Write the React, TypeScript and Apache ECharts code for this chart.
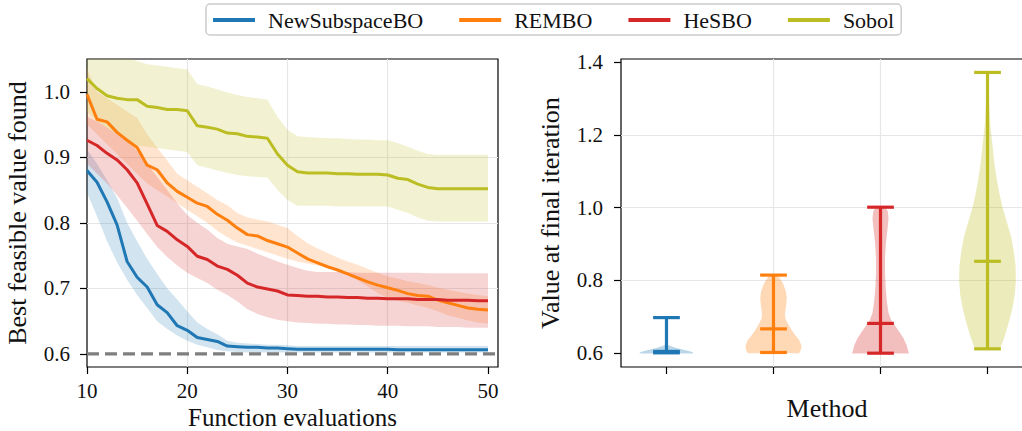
import React, { useEffect, useRef } from 'react';
import * as echarts from 'echarts';

const METHODS = ['NewSubspaceBO', 'REMBO', 'HeSBO', 'Sobol'];
const COLORS = ['#1f77b4', '#ff7f0e', '#d62728', '#bcbd22'];
const FONT = "'Liberation Serif', 'Times New Roman', serif";

const EVALS = [10, 11, 12, 13, 14, 15, 16, 17, 18, 19, 20, 21, 22, 23, 24, 25, 26, 27, 28, 29, 30,
  31, 32, 33, 34, 35, 36, 37, 38, 39, 40, 41, 42, 43, 44, 45, 46, 47, 48, 49, 50];
const X_MIN = 10;
const X_MAX = 51;
const OPTIMUM = 0.6;

const NEW_MEAN = [0.880, 0.862, 0.832, 0.797, 0.741, 0.717, 0.702, 0.675, 0.663, 0.643, 0.636, 0.625, 0.622, 0.619, 0.612, 0.611, 0.610, 0.610, 0.609, 0.609, 0.608,
  0.607, 0.607, 0.607, 0.607, 0.607, 0.607, 0.607, 0.607, 0.607, 0.607, 0.6065, 0.6065, 0.6065, 0.6065, 0.6065, 0.6065, 0.6065, 0.6065, 0.6065, 0.6065];
const NEW_UP = [0.912, 0.890, 0.865, 0.838, 0.800, 0.772, 0.745, 0.722, 0.700, 0.683, 0.665, 0.648, 0.638, 0.630, 0.620, 0.617, 0.616, 0.615, 0.614, 0.614, 0.613,
  0.612, 0.612, 0.612, 0.612, 0.612, 0.612, 0.612, 0.612, 0.612, 0.612, 0.612, 0.612, 0.612, 0.612, 0.612, 0.612, 0.612, 0.612, 0.612, 0.612];
const NEW_LO = [0.846, 0.810, 0.772, 0.740, 0.713, 0.690, 0.670, 0.650, 0.638, 0.628, 0.620, 0.614, 0.610, 0.606, 0.604, 0.603, 0.602, 0.602, 0.602, 0.602, 0.602,
  0.602, 0.602, 0.602, 0.602, 0.602, 0.602, 0.602, 0.602, 0.602, 0.602, 0.602, 0.602, 0.602, 0.602, 0.602, 0.602, 0.602, 0.602, 0.602, 0.602];

const REMBO_MEAN = [0.996, 0.958, 0.954, 0.938, 0.926, 0.915, 0.888, 0.881, 0.861, 0.848, 0.839, 0.830, 0.825, 0.813, 0.804, 0.792, 0.782, 0.780, 0.773, 0.768, 0.763,
  0.754, 0.745, 0.739, 0.733, 0.728, 0.722, 0.716, 0.710, 0.705, 0.701, 0.697, 0.692, 0.689, 0.688, 0.682, 0.678, 0.674, 0.670, 0.668, 0.667];
const REMBO_UP = [1.035, 1.000, 0.990, 0.980, 0.970, 0.960, 0.935, 0.915, 0.895, 0.875, 0.865, 0.855, 0.845, 0.835, 0.827, 0.815, 0.808, 0.805, 0.802, 0.797, 0.792,
  0.780, 0.769, 0.761, 0.754, 0.747, 0.741, 0.736, 0.730, 0.724, 0.718, 0.715, 0.711, 0.708, 0.705, 0.701, 0.698, 0.695, 0.692, 0.690, 0.688];
const REMBO_LO = [0.950, 0.935, 0.920, 0.905, 0.890, 0.875, 0.860, 0.850, 0.840, 0.830, 0.820, 0.810, 0.800, 0.788, 0.778, 0.770, 0.765, 0.760, 0.755, 0.750, 0.745,
  0.741, 0.738, 0.735, 0.732, 0.728, 0.720, 0.712, 0.703, 0.693, 0.685, 0.681, 0.678, 0.674, 0.670, 0.665, 0.659, 0.655, 0.651, 0.648, 0.646];

const HESBO_MEAN = [0.926, 0.918, 0.906, 0.896, 0.881, 0.861, 0.829, 0.796, 0.787, 0.774, 0.764, 0.749, 0.744, 0.734, 0.729, 0.720, 0.708, 0.702, 0.699, 0.696, 0.690,
  0.689, 0.688, 0.688, 0.687, 0.687, 0.686, 0.686, 0.685, 0.685, 0.684, 0.684, 0.684, 0.683, 0.683, 0.683, 0.682, 0.682, 0.682, 0.681, 0.681];
const HESBO_UP = [0.962, 0.955, 0.945, 0.935, 0.925, 0.910, 0.890, 0.870, 0.850, 0.830, 0.812, 0.800, 0.790, 0.777, 0.768, 0.764, 0.760, 0.753, 0.747, 0.741, 0.736,
  0.731, 0.727, 0.725, 0.725, 0.725, 0.725, 0.724, 0.724, 0.724, 0.724, 0.724, 0.724, 0.724, 0.723, 0.723, 0.723, 0.723, 0.723, 0.723, 0.723];
const HESBO_LO = [0.890, 0.875, 0.860, 0.842, 0.823, 0.803, 0.783, 0.763, 0.748, 0.735, 0.724, 0.716, 0.708, 0.698, 0.690, 0.680, 0.668, 0.661, 0.656, 0.652, 0.650,
  0.648, 0.647, 0.646, 0.646, 0.645, 0.645, 0.644, 0.644, 0.643, 0.643, 0.643, 0.642, 0.642, 0.642, 0.641, 0.641, 0.641, 0.640, 0.640, 0.640];

const SOBOL_MEAN = [1.020, 1.005, 0.994, 0.990, 0.988, 0.988, 0.978, 0.976, 0.973, 0.973, 0.971, 0.948, 0.946, 0.943, 0.937, 0.936, 0.932, 0.931, 0.929, 0.905, 0.888,
  0.878, 0.876, 0.876, 0.876, 0.875, 0.875, 0.874, 0.874, 0.874, 0.873, 0.868, 0.866, 0.859, 0.854, 0.852, 0.852, 0.852, 0.852, 0.852, 0.852];
const SOBOL_UP = [1.065, 1.065, 1.062, 1.058, 1.052, 1.047, 1.042, 1.040, 1.038, 1.036, 1.034, 1.012, 1.008, 1.004, 0.999, 0.995, 0.992, 0.990, 0.988, 0.962, 0.942,
  0.932, 0.931, 0.930, 0.929, 0.929, 0.928, 0.927, 0.927, 0.926, 0.926, 0.922, 0.916, 0.910, 0.905, 0.904, 0.904, 0.904, 0.904, 0.904, 0.904];
const SOBOL_LO = [0.970, 0.955, 0.945, 0.935, 0.925, 0.918, 0.916, 0.914, 0.912, 0.910, 0.908, 0.888, 0.884, 0.880, 0.876, 0.873, 0.871, 0.870, 0.869, 0.850, 0.835,
  0.826, 0.826, 0.826, 0.826, 0.825, 0.825, 0.825, 0.825, 0.825, 0.825, 0.820, 0.815, 0.808, 0.803, 0.802, 0.802, 0.802, 0.802, 0.802, 0.802];

const MEANS = [NEW_MEAN, REMBO_MEAN, HESBO_MEAN, SOBOL_MEAN];
const UPPERS = [NEW_UP, REMBO_UP, HESBO_UP, SOBOL_UP];
const LOWERS = [NEW_LO, REMBO_LO, HESBO_LO, SOBOL_LO];

// Violin plot (final iteration)
const VIOLIN_POS = [1, 2, 3, 4];
const FINAL_MIN = [0.600, 0.601, 0.599, 0.611];
const FINAL_MEDIAN = [0.604, 0.666, 0.681, 0.852];
const FINAL_MAX = [0.697, 0.814, 1.001, 1.372];
// [value, half width] pairs of each violin's density outline
const NEW_PROFILE = [[0.598, 0.255], [0.602, 0.24], [0.606, 0.2], [0.610, 0.14], [0.614, 0.085], [0.618, 0.045], [0.621, 0.02], [0.624, 0.006], [0.63, 0.003], [0.66, 0.002], [0.697, 0.001]];
const REMBO_PROFILE = [[0.599, 0.24], [0.61, 0.258], [0.62, 0.262], [0.635, 0.24], [0.65, 0.2], [0.665, 0.165], [0.68, 0.135], [0.695, 0.11], [0.71, 0.108], [0.73, 0.118], [0.75, 0.124], [0.77, 0.115], [0.79, 0.09], [0.805, 0.06], [0.815, 0.03]];
const HESBO_PROFILE = [[0.598, 0.265], [0.62, 0.245], [0.64, 0.215], [0.66, 0.17], [0.675, 0.135], [0.69, 0.1], [0.71, 0.075], [0.74, 0.06], [0.78, 0.048], [0.82, 0.042], [0.86, 0.042], [0.9, 0.05], [0.94, 0.065], [0.97, 0.075], [0.99, 0.068], [1.0, 0.045]];
const SOBOL_PROFILE = [[0.611, 0.11], [0.62, 0.13], [0.65, 0.165], [0.68, 0.195], [0.72, 0.23], [0.76, 0.255], [0.80, 0.265], [0.84, 0.262], [0.88, 0.245], [0.92, 0.22], [0.96, 0.18], [1.0, 0.14], [1.04, 0.11], [1.08, 0.085], [1.12, 0.065], [1.17, 0.047], [1.23, 0.025], [1.3, 0.012], [1.372, 0.005]];
const PROFILES = [NEW_PROFILE, REMBO_PROFILE, HESBO_PROFILE, SOBOL_PROFILE];
const CAP_HALF = 0.125;

const LEFT_Y_TICKS = [0.6, 0.7, 0.8, 0.9, 1.0];
const LEFT_X_TICKS = [10, 20, 30, 40, 50];
const RIGHT_Y_TICKS = [0.6, 0.8, 1.0, 1.2, 1.4];

function rgba(hex: string, a: number) {
  const r = parseInt(hex.slice(1, 3), 16);
  const g = parseInt(hex.slice(3, 5), 16);
  const b = parseInt(hex.slice(5, 7), 16);
  return `rgba(${r},${g},${b},${a})`;
}

const tickStyle = { show: true, length: 7, lineStyle: { color: '#000', width: 1.2 } };
const labelStyle = { fontSize: 21, fontFamily: FONT, color: '#111' };
const nameStyle = { fontSize: 26, fontFamily: FONT, color: '#111' };
const splitStyle = { show: true, showMinLine: false, showMaxLine: false, lineStyle: { color: '#e6e6e6', width: 1.2 } };

function bandSeries(i: number) {
  const lo = LOWERS[i];
  const hi = UPPERS[i];
  return {
    type: 'custom',
    xAxisIndex: 0,
    yAxisIndex: 0,
    clip: true,
    silent: true,
    z: 1,
    data: EVALS.map((x, k) => [x, lo[k], hi[k]]),
    encode: { x: 0, y: [1, 2] },
    renderItem: (params: any, api: any) => {
      if (params.dataIndex !== 0) return null;
      const pts: number[][] = [];
      for (let k = 0; k < EVALS.length; k++) pts.push(api.coord([EVALS[k], hi[k]]));
      for (let k = EVALS.length - 1; k >= 0; k--) pts.push(api.coord([EVALS[k], lo[k]]));
      return { type: 'polygon', shape: { points: pts }, style: { fill: rgba(COLORS[i], 0.2), stroke: 'none' } };
    },
  };
}

function violinSeries() {
  return {
    type: 'custom',
    xAxisIndex: 1,
    yAxisIndex: 1,
    silent: true,
    z: 3,
    data: VIOLIN_POS.map((p, k) => [p, FINAL_MIN[k], FINAL_MEDIAN[k], FINAL_MAX[k]]),
    encode: { x: 0, y: [1, 3] },
    renderItem: (params: any, api: any) => {
      const k = params.dataIndex;
      const p = VIOLIN_POS[k];
      const prof = PROFILES[k];
      const color = COLORS[k];
      const pts: number[][] = [];
      for (let j = 0; j < prof.length; j++) pts.push(api.coord([p + prof[j][1], prof[j][0]]));
      for (let j = prof.length - 1; j >= 0; j--) pts.push(api.coord([p - prof[j][1], prof[j][0]]));
      const lineStyle = { stroke: color, lineWidth: 3.2 };
      const seg = (x1: number, y1: number, x2: number, y2: number) => {
        const a = api.coord([x1, y1]);
        const b = api.coord([x2, y2]);
        return { type: 'line', shape: { x1: a[0], y1: a[1], x2: b[0], y2: b[1] }, style: lineStyle };
      };
      return {
        type: 'group',
        children: [
          { type: 'polygon', shape: { points: pts }, style: { fill: rgba(color, 0.3), stroke: 'none' } },
          seg(p, FINAL_MIN[k], p, FINAL_MAX[k]),
          seg(p - CAP_HALF, FINAL_MIN[k], p + CAP_HALF, FINAL_MIN[k]),
          seg(p - CAP_HALF, FINAL_MEDIAN[k], p + CAP_HALF, FINAL_MEDIAN[k]),
          seg(p - CAP_HALF, FINAL_MAX[k], p + CAP_HALF, FINAL_MAX[k]),
        ],
      };
    },
  };
}

function buildOption() {
  const series: any[] = [];
  for (let i = 0; i < METHODS.length; i++) series.push(bandSeries(i));
  series.push({
    type: 'line',
    name: 'optimum',
    xAxisIndex: 0,
    yAxisIndex: 0,
    showSymbol: false,
    silent: true,
    z: 2,
    data: [[X_MIN, OPTIMUM], [X_MAX, OPTIMUM]],
    lineStyle: { color: '#7f7f7f', width: 3.3, type: [12, 6] },
  });
  for (let i = 0; i < METHODS.length; i++) {
    series.push({
      type: 'line',
      name: METHODS[i],
      xAxisIndex: 0,
      yAxisIndex: 0,
      showSymbol: false,
      symbol: 'none',
      z: 4,
      color: COLORS[i],
      data: EVALS.map((x, k) => [x, MEANS[i][k]]),
      lineStyle: { color: COLORS[i], width: 3 },
    });
  }
  series.push(violinSeries());

  return {
    animation: false,
    legend: {
      data: METHODS,
      left: 206,
      top: 4,
      icon: 'rect',
      itemWidth: 42,
      itemHeight: 4,
      itemGap: 36,
      backgroundColor: '#fff',
      borderColor: '#cccccc',
      borderWidth: 1.5,
      borderRadius: 4,
      padding: [5, 7, 4, 7],
      textStyle: { fontSize: 22, fontFamily: FONT, color: '#111', padding: [0, 0, 0, 8] },
    },
    grid: [
      { left: 87, right: 524, top: 59, bottom: 64, show: true, borderColor: '#000', borderWidth: 1.2, backgroundColor: 'transparent', outerBoundsMode: 'none', containLabel: false },
      { left: 621, right: -11, top: 59, bottom: 64, show: true, borderColor: '#000', borderWidth: 1.2, backgroundColor: 'transparent', outerBoundsMode: 'none', containLabel: false },
    ],
    xAxis: [
      {
        type: 'value', gridIndex: 0, min: X_MIN, max: X_MAX,
        axisLine: { show: false },
        axisTick: { ...tickStyle, customValues: LEFT_X_TICKS },
        axisLabel: { ...labelStyle, margin: 13, customValues: LEFT_X_TICKS },
        splitLine: splitStyle,
        name: 'Function evaluations', nameLocation: 'middle', nameGap: 38, nameMoveOverlap: false,
        nameTextStyle: { ...nameStyle, fontSize: 25 },
      },
      {
        type: 'value', gridIndex: 1, min: 0.575, max: 4.425,
        axisLine: { show: false },
        axisTick: { ...tickStyle, customValues: VIOLIN_POS },
        axisLabel: { show: false },
        splitLine: splitStyle,
        name: 'Method', nameLocation: 'middle', nameGap: 28, nameTextStyle: nameStyle,
      },
    ],
    yAxis: [
      {
        type: 'value', gridIndex: 0, min: 0.58, max: 1.05,
        axisLine: { show: false },
        axisTick: { ...tickStyle, customValues: LEFT_Y_TICKS },
        axisLabel: { ...labelStyle, margin: 17, customValues: LEFT_Y_TICKS, formatter: (v: number) => v.toFixed(1) },
        splitLine: splitStyle,
        name: 'Best feasible value found', nameLocation: 'middle', nameGap: 57, nameTextStyle: nameStyle,
      },
      {
        type: 'value', gridIndex: 1, min: 0.561, max: 1.409,
        axisLine: { show: false },
        axisTick: { ...tickStyle, customValues: RIGHT_Y_TICKS },
        axisLabel: { ...labelStyle, margin: 18, customValues: RIGHT_Y_TICKS, formatter: (v: number) => v.toFixed(1) },
        splitLine: splitStyle,
        name: 'Value at final iteration', nameLocation: 'middle', nameGap: 58, nameTextStyle: nameStyle,
      },
    ],
    series,
  };
}

export default function App() {
  const ref = useRef<HTMLDivElement>(null);
  useEffect(() => {
    const chart = echarts.init(ref.current!, null, { renderer: 'svg' });
    chart.setOption(buildOption() as any);
    return () => chart.dispose();
  }, []);
  return <div ref={ref} style={{ position: 'fixed', left: 0, top: 0, width: 1022, height: 431, background: '#fff' }} />;
}
